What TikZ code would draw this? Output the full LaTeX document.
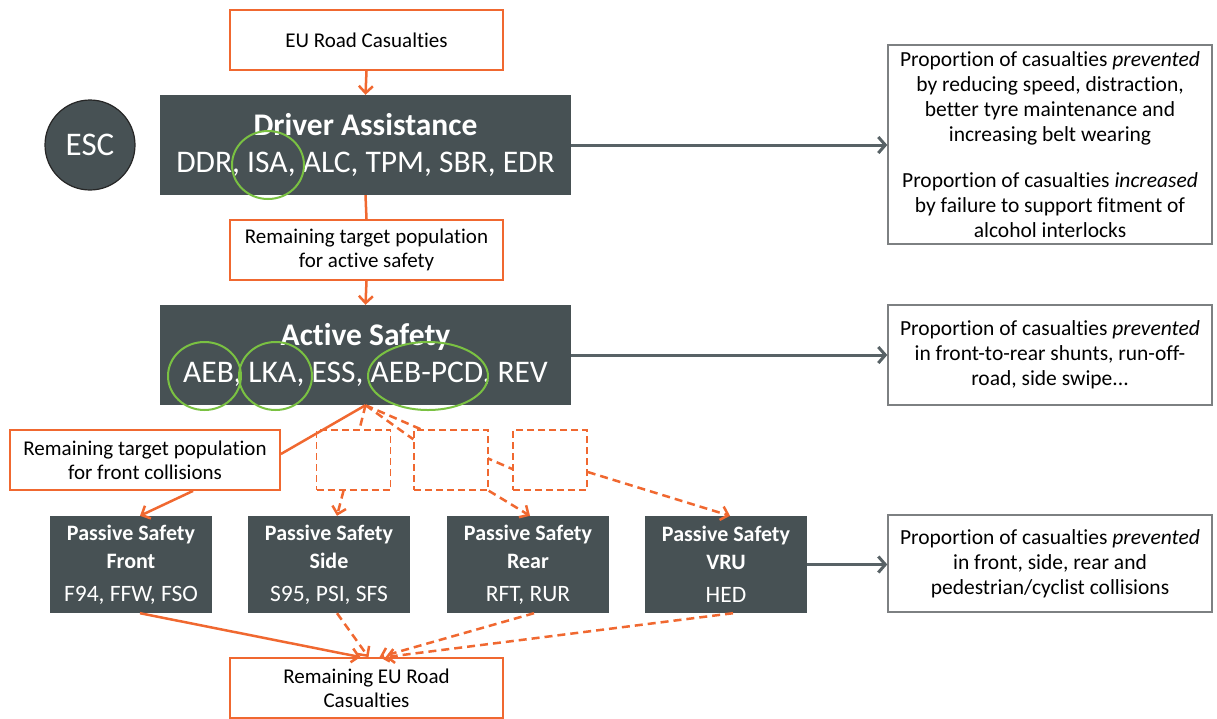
\documentclass[tikz,border=0pt]{standalone}
\usepackage{fontspec}
\setmainfont{Carlito}[Ligatures={NoCommon}]
\usetikzlibrary{arrows.meta,calc}
\definecolor{org}{RGB}{240,104,48}
\definecolor{dk}{RGB}{71,81,84}
\definecolor{grn}{RGB}{122,193,66}
\definecolor{gbord}{RGB}{125,128,130}
\definecolor{garr}{RGB}{88,98,102}
\pgfdeclarelayer{bg}
\pgfsetlayers{bg,main}
\begin{document}
\begin{tikzpicture}[x=1pt,y=-1pt,
  obox/.style={draw=org, line width=1.8pt, fill=white, minimum width=273pt, minimum height=60pt, align=center, inner sep=2pt, font=\fontsize{21}{24}\selectfont},
  dbox/.style={fill=dk, text=white, align=center, inner sep=0pt},
  bigbox/.style={dbox, minimum width=411pt, minimum height=100pt, font=\fontsize{31.5}{37}\selectfont},
  pbox/.style={dbox, minimum width=162pt, minimum height=97pt, font=\fontsize{22}{28}\selectfont},
  rbox/.style={draw=gbord, line width=1.4pt, fill=white, minimum width=324pt, align=center, inner sep=2pt, font=\fontsize{21.5}{25}\selectfont},
  dashbox/.style={draw=org, line width=1.5pt, dash pattern=on 7pt off 4pt, minimum width=74pt, minimum height=60pt, fill=white},
  oarr/.style={draw=org, line width=2.5pt, -{Straight Barb[length=7pt,width=14pt]}},
  oline/.style={draw=org, line width=2.5pt},
  darr/.style={oarr, dash pattern=on 8pt off 5pt},
  dline/.style={oline, dash pattern=on 8pt off 5pt},
  garrow/.style={draw=garr, line width=3pt, -{Straight Barb[length=7pt,width=16pt]}},
  grc/.style={draw=grn, line width=2pt}
]
\useasboundingbox (0,0) rectangle (1217,718);

% top chain
\node[obox] (eu) at (366.5,40) {EU Road Casualties};
\node[bigbox] (da) at (365.5,145) {{\bfseries\fontsize{31.5}{37}\selectfont Driver Assistance}\\DDR, ISA, ALC, TPM, SBR, EDR};
\node[circle, fill=dk, draw=black!85, line width=1.2pt, text=white, minimum size=90pt, inner sep=0pt, font=\fontsize{33}{37}\selectfont] (esc) at (90,145) {ESC};
\node[obox] (rem1) at (366.5,250) {Remaining target population\\for active safety};
\node[bigbox] (as) at (365.5,355) {{\bfseries\fontsize{31.5}{37}\selectfont Active Safety}\\AEB, LKA, ESS, AEB-PCD, REV};

% right boxes
\node[rbox, minimum height=199pt] (r1) at (1050,144.5) {Proportion of casualties \textit{prevented}\\by reducing speed, distraction,\\better tyre maintenance and\\increasing belt wearing\\[21pt]Proportion of casualties \textit{increased}\\by failure to support fitment of\\alcohol interlocks};
\node[rbox, minimum height=100pt] (r2) at (1050,355) {Proportion of casualties \textit{prevented}\\in front-to-rear shunts, run-off-\\road, side swipe...};
\node[rbox, minimum height=97pt] (r3) at (1050,563.5) {Proportion of casualties \textit{prevented}\\in front, side, rear and\\pedestrian/cyclist collisions};

% middle row
\node[obox, minimum width=270pt] (fc) at (145,460) {Remaining target population\\for front collisions};
\node[dashbox] (d1) at (353.5,460) {};
\node[dashbox] (d3) at (550,460) {};
\begin{pgfonlayer}{bg}
\draw[dline] (as.south) -- ([yshift=-9pt]d3.west);
\end{pgfonlayer}
\node[dashbox] (d2) at (451,460) {};

% passive row
\node[pbox] (pf) at (131,564.5) {\textbf{Passive Safety}\\\textbf{Front}\\[5pt]{\fontsize{23.5}{24}\selectfont F94, FFW, FSO}};
\node[pbox] (ps) at (329,564.5) {\textbf{Passive Safety}\\\textbf{Side}\\[5pt]{\fontsize{23.5}{24}\selectfont S95, PSI, SFS}};
\node[pbox] (pr) at (528,564.5) {\textbf{Passive Safety}\\\textbf{Rear}\\[5pt]{\fontsize{23.5}{24}\selectfont RFT, RUR}};
\node[pbox] (pv) at (726,564.5) {\textbf{Passive Safety}\\\textbf{VRU}\\[5pt]{\fontsize{23.5}{24}\selectfont HED}};

\node[obox] (re) at (366.5,688) {Remaining EU Road\\Casualties};

% green highlight circles
\draw[grc] (268,165) ellipse [x radius=36pt, y radius=34pt];
\draw[grc] (204.5,376) ellipse [x radius=36.5pt, y radius=34pt];
\draw[grc] (275.5,376) ellipse [x radius=36.5pt, y radius=34pt];
\draw[grc] (428,376) ellipse [x radius=60pt, y radius=34pt];

% orange connectors
\draw[oarr] (eu.south) -- (da.north);
\draw[oline] (da.south) -- (rem1.north);
\draw[oarr] (rem1.south) -- (as.north);
\draw[oline] (as.south) -- ([yshift=6pt]fc.east);
\draw[oarr] ([xshift=48pt]fc.south) -- ([xshift=9pt]pf.north);
\draw[dline] (as.south) -- ([xshift=6pt]d1.north);
\draw[darr] ([xshift=-10pt]d1.south) -- ([xshift=8pt]ps.north);
\draw[dline] (as.south) -- ([yshift=-10pt]d2.north west);
\draw[darr] (d2.south east) -- ([xshift=2pt]pr.north);
\draw[darr] ([yshift=-12pt]d3.east) -- ([xshift=4pt]pv.north);

\draw[oarr] ([xshift=9pt]pf.south) -- ([xshift=-6pt]re.north);
\draw[darr] ([xshift=8pt]ps.south) -- ([xshift=2pt]re.north);
\draw[darr] ([xshift=6pt]pr.south) -- ([xshift=13pt]re.north);
\draw[darr] ([xshift=7pt]pv.south) -- ([xshift=19pt]re.north);

% grey connectors
\draw[garrow] (da.east) -- (da.east -| r1.west);
\draw[garrow] (as.east) -- (r2.west);
\draw[garrow] (pv.east) -- (pv.east -| r3.west);
\end{tikzpicture}
\end{document}
